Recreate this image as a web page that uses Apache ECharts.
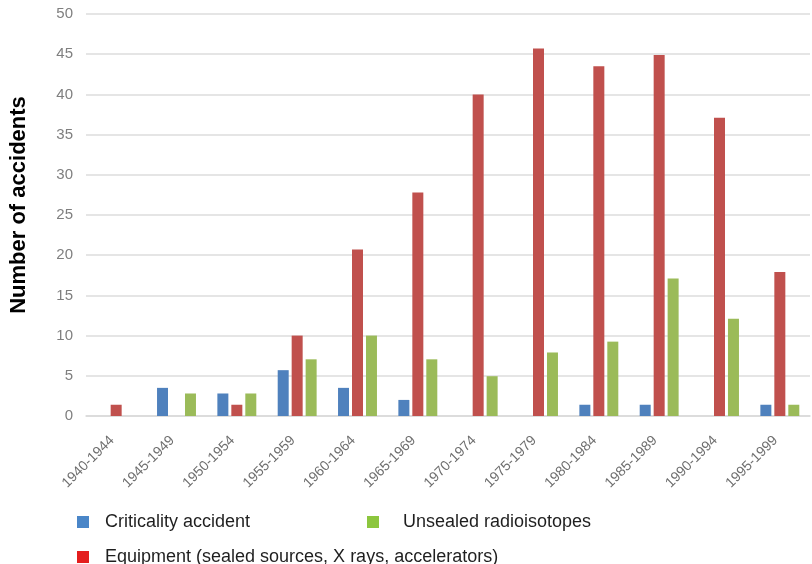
<!DOCTYPE html>
<html>
<head>
<meta charset="utf-8">
<script src="https://cdn.jsdelivr.net/npm/echarts@6/dist/echarts.min.js"></script>
<style>html,body{margin:0;padding:0;background:#fff;}#c{width:812px;height:564px;}</style>
</head>
<body>
<div id="c"></div>
<script>
const categories = ['1940-1944','1945-1949','1950-1954','1955-1959','1960-1964','1965-1969','1970-1974','1975-1979','1980-1984','1985-1989','1990-1994','1995-1999'];
const criticality = [0, 3.5, 2.8, 5.7, 3.5, 2, 0, 0, 1.4, 1.4, 0, 1.4];
const equipment = [1.4, 0, 1.4, 10, 20.7, 27.8, 40, 45.7, 43.5, 44.9, 37.1, 17.9];
const unsealed = [0, 2.8, 2.8, 7.05, 10, 7.05, 4.95, 7.9, 9.25, 17.1, 12.1, 1.4];
const yTicks = {min: 0, max: 50, interval: 5};
const seriesNames = ['Criticality accident', 'Equipment (sealed sources, X rays, accelerators)', 'Unsealed radioisotopes'];

const chart = echarts.init(document.getElementById('c'), null, {renderer: 'canvas'});
const FONT = "'Liberation Sans',Arial,sans-serif";
function leg(name, color, left, top, padLeft) {
  return {data: [{name: name, itemStyle: {color: color}}], left: left, top: top, padding: 0,
    itemWidth: 12, itemHeight: 12, icon: 'rect', selectedMode: false,
    textStyle: {fontFamily: FONT, fontSize: 18, color: '#1f1f1f', padding: [0, 0, 0, padLeft]}};
}
chart.setOption({
  animation: false,
  grid: {left: 80, right: 2, top: 14, bottom: 148},
  legend: [
    leg(seriesNames[0], '#4a86c8', 77, 513, 11),
    leg(seriesNames[2], '#8cc63e', 367, 513, 19),
    leg(seriesNames[1], '#e41e1e', 77, 548, 11)
  ],
  xAxis: {
    type: 'category', data: categories,
    axisLine: {lineStyle: {color: '#d9d9d9', width: 1.5}},
    axisTick: {show: false},
    axisLabel: {rotate: 45, margin: 18, color: '#6e6e6e', fontSize: 14, fontFamily: FONT, interval: 0, padding: [0, 6, 0, 0]}
  },
  yAxis: {
    type: 'value', min: yTicks.min, max: yTicks.max, interval: yTicks.interval,
    name: 'Number of accidents', nameLocation: 'middle', nameGap: 56,
    nameTextStyle: {fontSize: 22, fontWeight: 'bold', color: '#000', fontFamily: FONT, padding: [0, 0, 0, 20]},
    axisLine: {show: false}, axisTick: {show: false},
    axisLabel: {margin: 13, color: '#7f7f7f', fontSize: 15, fontFamily: FONT},
    splitLine: {lineStyle: {color: '#dcdcdc', width: 1.5}}
  },
  series: [
    {name: seriesNames[0], type: 'bar', data: criticality, barWidth: 11, barGap: '27%', itemStyle: {color: '#4f81bd'}},
    {name: seriesNames[1], type: 'bar', data: equipment, barWidth: 11, barGap: '27%', itemStyle: {color: '#c0504d'}},
    {name: seriesNames[2], type: 'bar', data: unsealed, barWidth: 11, barGap: '27%', itemStyle: {color: '#9bbb59'}}
  ]
});
</script>
</body>
</html>
